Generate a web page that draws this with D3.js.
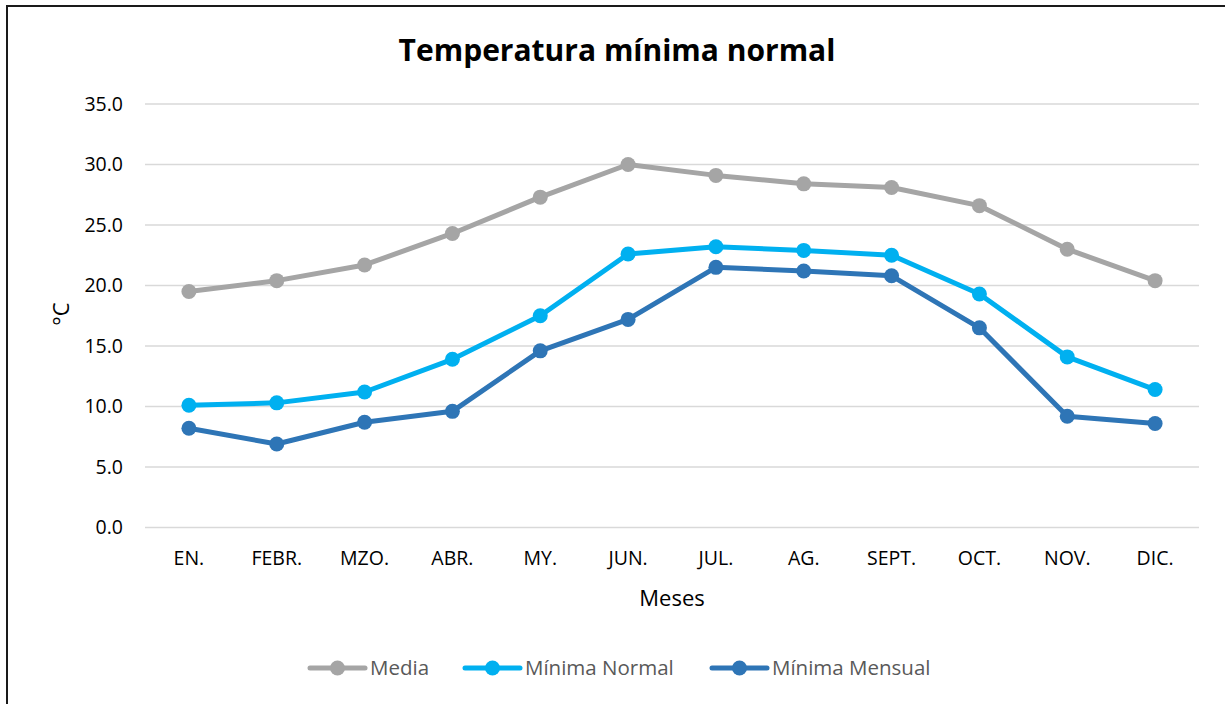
<!DOCTYPE html>
<html><head><meta charset="utf-8">
<script src="https://cdn.jsdelivr.net/npm/d3@7"></script>
<style>body{margin:0;background:#fff}svg{display:block}</style>
</head><body>
<script>
const months = ["EN.","FEBR.","MZO.","ABR.","MY.","JUN.","JUL.","AG.","SEPT.","OCT.","NOV.","DIC."];
const media = [19.5,20.4,21.7,24.3,27.3,30.0,29.1,28.4,28.1,26.6,23.0,20.4];
const minimaNormal = [10.1,10.3,11.2,13.9,17.5,22.6,23.2,22.9,22.5,19.3,14.1,11.4];
const minimaMensual = [8.2,6.9,8.7,9.6,14.6,17.2,21.5,21.2,20.8,16.5,9.2,8.6];
const yTicks = [0,5,10,15,20,25,30,35];
const seriesNames = ["Media","Mínima Normal","Mínima Mensual"];
const seriesColors = ["#A5A5A5","#00B0F0","#2E75B6"];
const series = [media, minimaNormal, minimaMensual];

const W=1225,H=704;
const font = "'Open Sans', 'Liberation Sans', sans-serif";
const svg = d3.select("body").append("svg").attr("width",W).attr("height",H);
svg.append("rect").attr("width",W).attr("height",H).attr("fill","#fff");
svg.append("rect").attr("x",7).attr("y",6).attr("width",W+20).attr("height",H+20)
  .attr("fill","none").attr("stroke","#1a1a1a").attr("stroke-width",2);

const x = d3.scaleBand().domain(months).range([145,1199]);
const y = d3.scaleLinear().domain([0,35]).range([527.5,104]);
const cx = d => x(d)+x.bandwidth()/2;

// grid
svg.append("g").selectAll("line").data(yTicks).join("line")
  .attr("x1",145).attr("x2",1199).attr("y1",d=>y(d)).attr("y2",d=>y(d))
  .attr("stroke","#d9d9d9").attr("stroke-width",1.5);

// y axis labels
const yAxis = d3.axisLeft(y).tickValues(yTicks).tickFormat(d3.format(".1f")).tickSize(0).tickPadding(0);
const ga = svg.append("g").attr("transform","translate(123,0)").call(yAxis);
ga.select(".domain").remove();
ga.selectAll("text").attr("font-family",font).attr("font-size",19.5).attr("fill","#000");

// x axis labels
const xAxis = d3.axisBottom(x).tickSize(0).tickPadding(0);
const gx = svg.append("g").attr("transform","translate(0,551)").call(xAxis);
gx.select(".domain").remove();
gx.selectAll("text").attr("font-family",font).attr("font-size",19.5).attr("fill","#000");

// title
svg.append("text").attr("x",617).attr("y",61).attr("text-anchor","middle")
  .attr("font-family",font).attr("font-weight","bold").attr("font-size",30).attr("fill","#000")
  .text("Temperatura mínima normal");

// axis titles
svg.append("text").attr("x",672).attr("y",606).attr("text-anchor","middle")
  .attr("font-family",font).attr("font-size",22).attr("fill","#000").text("Meses");
svg.append("text").attr("transform","translate(69,314) rotate(-90)").attr("text-anchor","middle")
  .attr("font-family",font).attr("font-size",22).attr("fill","#000").text("°C");

// lines
const line = d3.line().x((d,i)=>cx(months[i])).y(d=>y(d));
series.forEach((s,k)=>{
  const g = svg.append("g");
  g.append("path").datum(s).attr("d",line).attr("fill","none")
    .attr("stroke",seriesColors[k]).attr("stroke-width",5).attr("stroke-linejoin","round").attr("stroke-linecap","round");
  g.selectAll("circle").data(s).join("circle")
    .attr("cx",(d,i)=>cx(months[i])).attr("cy",d=>y(d)).attr("r",7.5).attr("fill",seriesColors[k]);
});

// legend
const legX = [310,465,712];
const lg = svg.append("g");
seriesNames.forEach((n,k)=>{
  const g = lg.append("g").attr("transform",`translate(${legX[k]},668)`);
  g.append("line").attr("x1",0).attr("x2",55).attr("y1",0).attr("y2",0)
    .attr("stroke",seriesColors[k]).attr("stroke-width",5).attr("stroke-linecap","round");
  g.append("circle").attr("cx",27.5).attr("cy",0).attr("r",7.5).attr("fill",seriesColors[k]);
  g.append("text").attr("x",60).attr("y",7).attr("font-family",font).attr("font-size",20.5)
    .attr("fill","#595959").text(n);
});
</script>
</body></html>
